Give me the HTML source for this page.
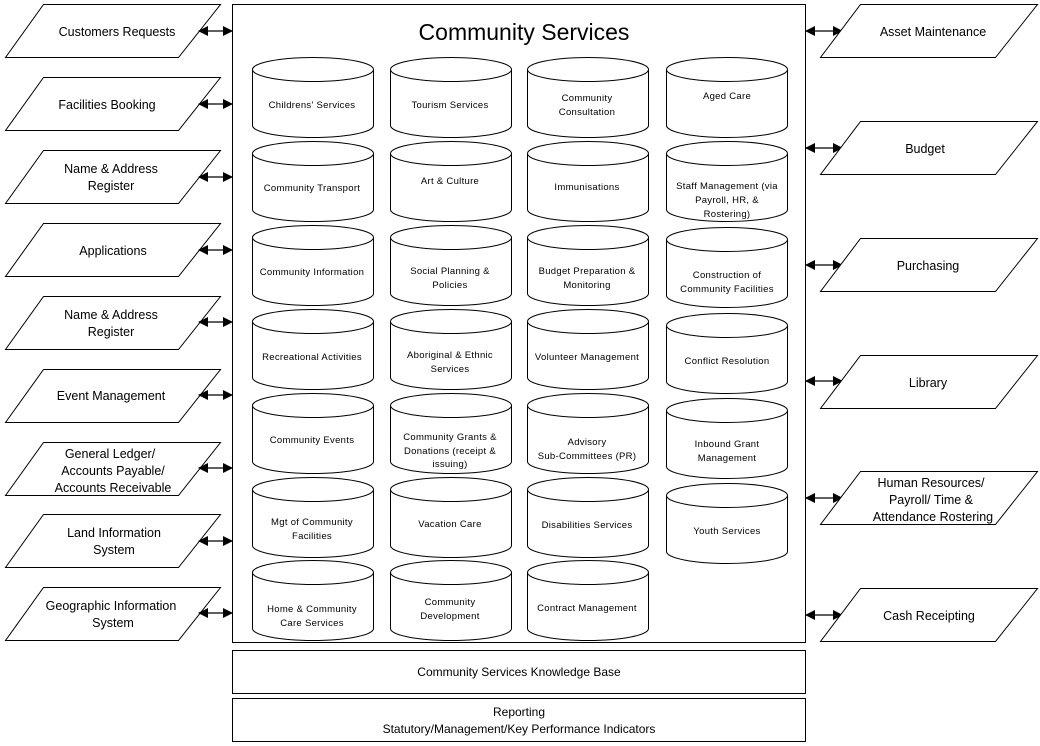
<!DOCTYPE html>
<html><head><meta charset="utf-8"><style>
html,body{margin:0;padding:0;background:#fff}
svg{display:block}
text{font-family:"Liberation Sans",Arial,sans-serif;fill:#000}
.s{font-size:9.5px;letter-spacing:0.3px}
.p{font-size:12.5px}
</style></head><body>
<svg width="1040" height="746" viewBox="0 0 1040 746" xmlns="http://www.w3.org/2000/svg">
<defs>
<marker id="a" markerWidth="10" markerHeight="10" refX="9" refY="5" orient="auto-start-reverse" markerUnits="userSpaceOnUse"><path d="M0,0 L10,5 L0,10 Z" fill="#000"/></marker>
<g id="cyl">
<path d="M0,12 A60.5,12 0 0 1 121,12 L121,68 A60.5,12 0 0 1 0,68 Z" fill="#fff" stroke="#000" stroke-width="1"/>
<path d="M0,12 A60.5,12 0 0 0 121,12" fill="none" stroke="#000" stroke-width="1"/>
</g>
</defs>
<g fill="none" stroke="#000" stroke-width="1">
<rect x="232.5" y="4.5" width="573" height="638"/>
<rect x="232.5" y="650.5" width="573" height="43"/>
<rect x="232.5" y="698.5" width="573" height="43"/>
</g>
<text x="524" y="40" font-size="23" text-anchor="middle">Community Services</text>
<text x="519" y="676" text-anchor="middle" font-size="12">Community Services Knowledge Base</text>
<text x="519" y="716" text-anchor="middle" font-size="12">Reporting</text>
<text x="519" y="733" text-anchor="middle" font-size="12">Statutory/Management/Key Performance Indicators</text>

<g fill="#fff" stroke="#000" stroke-width="1">
<path d="M43.5,4.5 H220.5 L178.5,57.5 H5.5 Z"/>
<path d="M43.5,77.5 H220.5 L178.5,130.5 H5.5 Z"/>
<path d="M43.5,150.5 H220.5 L178.5,203.5 H5.5 Z"/>
<path d="M43.5,223.5 H220.5 L178.5,276.5 H5.5 Z"/>
<path d="M43.5,296.5 H220.5 L178.5,349.5 H5.5 Z"/>
<path d="M43.5,369.5 H220.5 L178.5,422.5 H5.5 Z"/>
<path d="M43.5,442.5 H220.5 L178.5,495.5 H5.5 Z"/>
<path d="M43.5,514.5 H220.5 L178.5,567.5 H5.5 Z"/>
<path d="M43.5,587.5 H220.5 L178.5,640.5 H5.5 Z"/>
</g>
<g class="p" text-anchor="middle">
<text x="117" y="36">Customers Requests</text>
<text x="107" y="109">Facilities Booking</text>
<text x="111" y="173">Name &amp; Address</text><text x="111" y="190">Register</text>
<text x="113" y="255">Applications</text>
<text x="111" y="319">Name &amp; Address</text><text x="111" y="336">Register</text>
<text x="111" y="400">Event Management</text>
<text x="110" y="458">General Ledger/</text><text x="113" y="475">Accounts Payable/</text><text x="113" y="492">Accounts Receivable</text>
<text x="114" y="537">Land Information</text><text x="114" y="554">System</text>
<text x="111" y="610">Geographic Information</text><text x="113" y="627">System</text>
</g>
<g stroke="#000" stroke-width="1.2" marker-start="url(#a)" marker-end="url(#a)">
<line x1="199" y1="31" x2="232" y2="31"/>
<line x1="199" y1="104" x2="232" y2="104"/>
<line x1="199" y1="177" x2="232" y2="177"/>
<line x1="199" y1="250" x2="232" y2="250"/>
<line x1="199" y1="322" x2="232" y2="322"/>
<line x1="199" y1="395" x2="232" y2="395"/>
<line x1="199" y1="468" x2="232" y2="468"/>
<line x1="199" y1="541" x2="232" y2="541"/>
<line x1="199" y1="613" x2="232" y2="613"/>
<line x1="806" y1="31" x2="842" y2="31"/>
<line x1="806" y1="148" x2="842" y2="148"/>
<line x1="806" y1="265" x2="842" y2="265"/>
<line x1="806" y1="381" x2="842" y2="381"/>
<line x1="806" y1="498" x2="842" y2="498"/>
<line x1="806" y1="615" x2="842" y2="615"/>
</g>
<g fill="#fff" stroke="#000" stroke-width="1">
<path d="M860.5,4.5 H1037.5 L995.5,57.5 H820.5 Z"/>
<path d="M860.5,121.5 H1037.5 L995.5,174.5 H820.5 Z"/>
<path d="M860.5,238.5 H1037.5 L995.5,291.5 H820.5 Z"/>
<path d="M860.5,355.5 H1037.5 L995.5,408.5 H820.5 Z"/>
<path d="M860.5,471.5 H1037.5 L995.5,524.5 H820.5 Z"/>
<path d="M860.5,588.5 H1037.5 L995.5,641.5 H820.5 Z"/>
</g>
<g class="p" text-anchor="middle">
<text x="933" y="36">Asset Maintenance</text>
<text x="925" y="153">Budget</text>
<text x="928" y="270">Purchasing</text>
<text x="928" y="387">Library</text>
<text x="931" y="487">Human Resources/</text><text x="931" y="504">Payroll/ Time &amp;</text><text x="933" y="521">Attendance Rostering</text>
<text x="929" y="620">Cash Receipting</text>
</g>

<g>
<use href="#cyl" x="252.5" y="57.5"/><use href="#cyl" x="390.5" y="57.5"/><use href="#cyl" x="527.5" y="57.5"/><use href="#cyl" x="666.5" y="57.5"/>
<use href="#cyl" x="252.5" y="141.5"/><use href="#cyl" x="390.5" y="141.5"/><use href="#cyl" x="527.5" y="141.5"/><use href="#cyl" x="666.5" y="141.5"/>
<use href="#cyl" x="252.5" y="225.5"/><use href="#cyl" x="390.5" y="225.5"/><use href="#cyl" x="527.5" y="225.5"/><use href="#cyl" x="666.5" y="227.5"/>
<use href="#cyl" x="252.5" y="309.5"/><use href="#cyl" x="390.5" y="309.5"/><use href="#cyl" x="527.5" y="309.5"/><use href="#cyl" x="666.5" y="313.5"/>
<use href="#cyl" x="252.5" y="393.5"/><use href="#cyl" x="390.5" y="393.5"/><use href="#cyl" x="527.5" y="393.5"/><use href="#cyl" x="666.5" y="398.5"/>
<use href="#cyl" x="252.5" y="477.5"/><use href="#cyl" x="390.5" y="477.5"/><use href="#cyl" x="527.5" y="477.5"/><use href="#cyl" x="666.5" y="483.5"/>
<use href="#cyl" x="252.5" y="560.5"/><use href="#cyl" x="390.5" y="560.5"/><use href="#cyl" x="527.5" y="560.5"/>
</g>
<g class="s" text-anchor="middle">
<text x="312" y="108">Childrens' Services</text>
<text x="450" y="108">Tourism Services</text>
<text x="587" y="101">Community</text><text x="587" y="115">Consultation</text>
<text x="727" y="99">Aged Care</text>

<text x="312" y="191">Community Transport</text>
<text x="450" y="184">Art &amp; Culture</text>
<text x="587" y="190">Immunisations</text>
<text x="727" y="189">Staff Management (via</text><text x="727" y="203">Payroll, HR, &amp;</text><text x="727" y="217">Rostering)</text>

<text x="312" y="275">Community Information</text>
<text x="450" y="274">Social Planning &amp;</text><text x="450" y="288">Policies</text>
<text x="587" y="274">Budget Preparation &amp;</text><text x="587" y="288">Monitoring</text>
<text x="727" y="278">Construction of</text><text x="727" y="292">Community Facilities</text>

<text x="312" y="360">Recreational Activities</text>
<text x="450" y="358">Aboriginal &amp; Ethnic</text><text x="450" y="372">Services</text>
<text x="587" y="360">Volunteer Management</text>
<text x="727" y="364">Conflict Resolution</text>

<text x="312" y="443">Community Events</text>
<text x="450" y="440">Community Grants &amp;</text><text x="450" y="454">Donations (receipt &amp;</text><text x="450" y="467">issuing)</text>
<text x="587" y="445">Advisory</text><text x="587" y="459">Sub-Committees (PR)</text>
<text x="727" y="447">Inbound Grant</text><text x="727" y="461">Management</text>

<text x="312" y="525">Mgt of Community</text><text x="312" y="539">Facilities</text>
<text x="450" y="527">Vacation Care</text>
<text x="587" y="528">Disabilities Services</text>
<text x="727" y="534">Youth Services</text>

<text x="312" y="612">Home &amp; Community</text><text x="312" y="626">Care Services</text>
<text x="450" y="605">Community</text><text x="450" y="619">Development</text>
<text x="587" y="611">Contract Management</text>
</g>
</svg>
</body></html>
